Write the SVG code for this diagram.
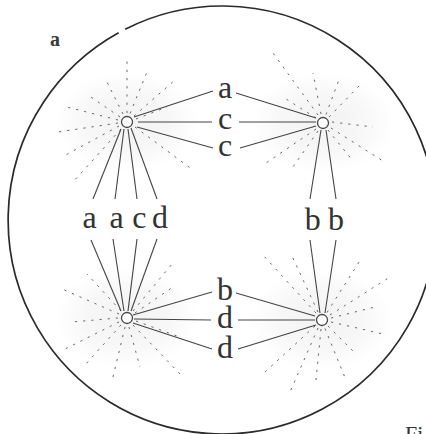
<svg xmlns="http://www.w3.org/2000/svg" width="426" height="434" viewBox="0 0 426 434">
  <defs>
    <radialGradient id="halo">
      <stop offset="0" stop-color="#000" stop-opacity="0.05"/>
      <stop offset="0.6" stop-color="#000" stop-opacity="0.03"/>
      <stop offset="1" stop-color="#000" stop-opacity="0"/>
    </radialGradient>
    <style>
      .cell { fill: none; stroke: #2a2a2a; stroke-width: 1.7; }
      .fiber { stroke: #444; stroke-width: 1.1; fill: none; }
      .ray { stroke: #666; stroke-width: 1; stroke-dasharray: 2.2 6; fill: none; }
      .centro { fill: #fff; stroke: #474747; stroke-width: 1.3; }
      .lbl { font-family: "Liberation Serif", serif; font-size: 32px; fill: #333; text-anchor: middle; }
      .tag { font-family: "Liberation Serif", serif; font-size: 20px; font-weight: bold; fill: #3a3a3a; text-anchor: middle; }
    </style>
  </defs>
  <rect width="426" height="434" fill="#fff"/>

  <!-- cell outline with a small break at upper left -->
  <path class="cell" d="M125.2,29.2 A214,214 0 1 1 118.6,32.7"/>

  <text class="tag" x="55" y="46">a</text>
  <text x="405" y="441" font-family="Liberation Serif, serif" font-size="22" fill="#333">Fi</text>

  <!-- asters: soft halo and dotted rays -->
  <g id="aster-tl">
    <ellipse cx="127" cy="122" rx="72" ry="50" fill="url(#halo)"/>
    <g class="ray" transform="translate(127,122)">
      <line x1="0" y1="-9" x2="0" y2="-62"/>
      <line x1="3" y1="-8.5" x2="20" y2="-50"/>
      <line x1="7" y1="-6" x2="48" y2="-42"/>
      <line x1="-4" y1="-8" x2="-20" y2="-40"/>
      <line x1="-7" y1="-5" x2="-39" y2="-27"/>
      <line x1="-9" y1="-2" x2="-64" y2="-16"/>
      <line x1="-9" y1="1" x2="-69" y2="10"/>
      <line x1="-8" y1="4" x2="-65" y2="35"/>
      <line x1="-6" y1="7" x2="-54" y2="60"/>
      <line x1="8" y1="5" x2="66" y2="48"/>
      <line x1="9" y1="-3" x2="40" y2="-15"/>
    </g>
  </g>
  <g id="aster-tr">
    <ellipse cx="323" cy="123" rx="72" ry="50" fill="url(#halo)"/>
    <g class="ray" transform="translate(323,123)">
      <line x1="-5" y1="-8" x2="-50" y2="-70"/>
      <line x1="-2" y1="-9" x2="-10" y2="-50"/>
      <line x1="3" y1="-8.5" x2="17" y2="-46"/>
      <line x1="6" y1="-6" x2="37" y2="-38"/>
      <line x1="9" y1="-1" x2="50" y2="4"/>
      <line x1="8" y1="5" x2="63" y2="40"/>
      <line x1="-7" y1="6" x2="-57" y2="40"/>
      <line x1="-5" y1="8" x2="-30" y2="44"/>
      <line x1="-7" y1="-5" x2="-40" y2="-26"/>
      <line x1="5" y1="7" x2="30" y2="38"/>
    </g>
  </g>
  <g id="aster-bl">
    <ellipse cx="127" cy="318" rx="72" ry="50" fill="url(#halo)"/>
    <g class="ray" transform="translate(127,318)">
      <line x1="-8" y1="-4" x2="-65" y2="-29"/>
      <line x1="-9" y1="0" x2="-55" y2="4"/>
      <line x1="-8" y1="4" x2="-64" y2="32"/>
      <line x1="-6" y1="7" x2="-42" y2="47"/>
      <line x1="-2" y1="9" x2="-14" y2="59"/>
      <line x1="2" y1="9" x2="13" y2="49"/>
      <line x1="6" y1="7" x2="53" y2="56"/>
      <line x1="6" y1="-7" x2="45" y2="-54"/>
      <line x1="8" y1="-5" x2="46" y2="-31"/>
      <line x1="-6" y1="-7" x2="-40" y2="-44"/>
      <line x1="9" y1="3" x2="50" y2="18"/>
    </g>
  </g>
  <g id="aster-br">
    <ellipse cx="322" cy="320" rx="72" ry="50" fill="url(#halo)"/>
    <g class="ray" transform="translate(322,320)">
      <line x1="5" y1="-7.5" x2="39" y2="-61"/>
      <line x1="8" y1="-5" x2="68" y2="-43"/>
      <line x1="9" y1="-2" x2="53" y2="-13"/>
      <line x1="9" y1="2" x2="61" y2="14"/>
      <line x1="6" y1="6" x2="34" y2="34"/>
      <line x1="3" y1="8.5" x2="24" y2="60"/>
      <line x1="-1" y1="9" x2="-6" y2="60"/>
      <line x1="-4" y1="8" x2="-32" y2="72"/>
      <line x1="-7" y1="6" x2="-57" y2="52"/>
      <line x1="-6" y1="-7" x2="-59" y2="-65"/>
      <line x1="-4" y1="-8" x2="-31" y2="-66"/>
    </g>
  </g>

  <!-- spindle fibres -->
  <g id="fibers" class="fiber">
    <line x1="134" y1="117" x2="213" y2="91"/>
    <line x1="236" y1="93" x2="316" y2="118"/>
    <line x1="138" y1="122" x2="212" y2="122"/>
    <line x1="239" y1="122" x2="316" y2="122"/>
    <line x1="137" y1="127" x2="213" y2="148"/>
    <line x1="240" y1="148" x2="316" y2="126"/>

    <line x1="133" y1="315" x2="212" y2="292"/>
    <line x1="236" y1="293" x2="315" y2="316"/>
    <line x1="134" y1="319" x2="211" y2="320"/>
    <line x1="238" y1="320" x2="315" y2="320"/>
    <line x1="133" y1="323" x2="212" y2="349"/>
    <line x1="238" y1="349" x2="316" y2="325"/>

    <line x1="121" y1="129" x2="93" y2="199"/>
    <line x1="124" y1="129" x2="115" y2="199"/>
    <line x1="128" y1="129" x2="137" y2="199"/>
    <line x1="131" y1="128" x2="157" y2="199"/>
    <line x1="91" y1="240" x2="121" y2="311"/>
    <line x1="113" y1="239" x2="124" y2="311"/>
    <line x1="137" y1="239" x2="128" y2="311"/>
    <line x1="157" y1="239" x2="131" y2="311"/>

    <line x1="321" y1="130" x2="310" y2="199"/>
    <line x1="326" y1="130" x2="336" y2="199"/>
    <line x1="310" y1="240" x2="320" y2="313"/>
    <line x1="336" y1="240" x2="325" y2="313"/>
  </g>

  <!-- centrosomes -->
  <g id="centro-tl"><circle class="centro" cx="127" cy="122" r="5.5"/></g>
  <g id="centro-tr"><circle class="centro" cx="323" cy="123" r="5.5"/></g>
  <g id="centro-bl"><circle class="centro" cx="127" cy="318" r="5.5"/></g>
  <g id="centro-br"><circle class="centro" cx="322" cy="320" r="5.5"/></g>

  <!-- chromosome letters -->
  <g id="labels-top">
    <text class="lbl" x="225" y="97.5">a</text>
    <text class="lbl" x="225" y="128.5">c</text>
    <text class="lbl" x="225" y="156">c</text>
  </g>
  <g id="labels-bottom">
    <text class="lbl" x="225" y="299.5">b</text>
    <text class="lbl" x="225" y="327.5">d</text>
    <text class="lbl" x="225" y="358">d</text>
  </g>
  <g id="labels-left">
    <text class="lbl" x="89.7" y="228">a</text>
    <text class="lbl" x="116.7" y="228">a</text>
    <text class="lbl" x="139.3" y="228">c</text>
    <text class="lbl" x="160" y="228">d</text>
  </g>
  <g id="labels-right">
    <text class="lbl" x="312.7" y="230">b</text>
    <text class="lbl" x="336" y="230">b</text>
  </g>
</svg>
